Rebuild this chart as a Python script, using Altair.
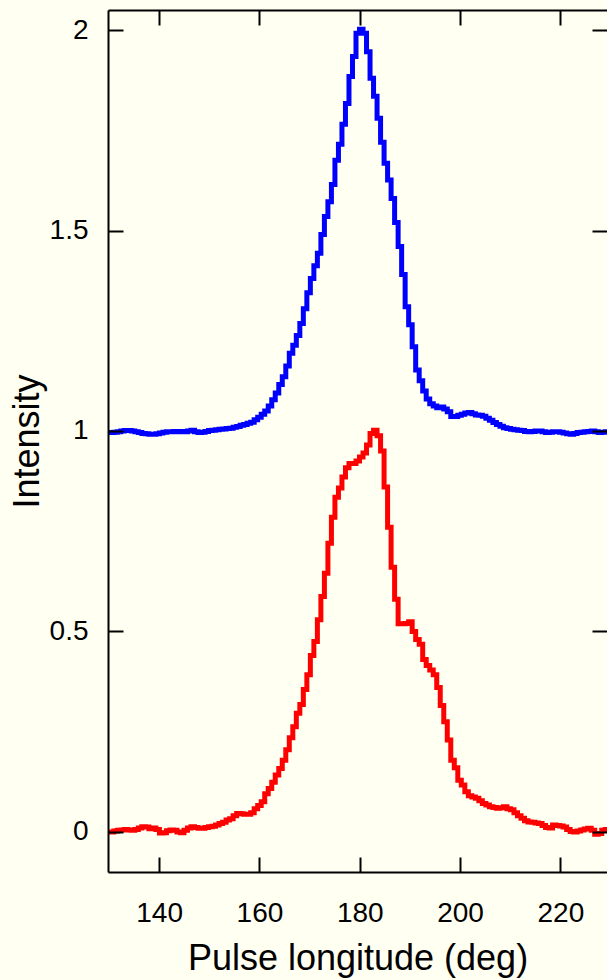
import altair as alt
import pandas as pd

# Pulse-profile bins: longitude of the first bin and bin width (deg)
LON_START = 129.9
LON_STEP = 0.7

# Upper profile (offset by +1)
upper_profile = [
    0.996, 0.996, 0.997, 0.998, 1.000, 1.001, 1.001, 1.000, 0.998, 0.996,
    0.994, 0.993, 0.992, 0.992, 0.993, 0.995, 0.997, 0.998, 0.998, 0.999,
    0.998, 0.999, 0.998, 1.000, 1.002, 0.998, 0.996, 0.997, 0.999, 1.001,
    1.002, 1.003, 1.004, 1.005, 1.006, 1.007, 1.009, 1.011, 1.014, 1.016,
    1.019, 1.022, 1.028, 1.034, 1.042, 1.050, 1.062, 1.078, 1.095, 1.116,
    1.135, 1.162, 1.194, 1.214, 1.238, 1.268, 1.305, 1.345, 1.380, 1.412,
    1.443, 1.490, 1.535, 1.572, 1.615, 1.675, 1.715, 1.765, 1.817, 1.884,
    1.934, 1.992, 2.002, 1.992, 1.946, 1.880, 1.835, 1.780, 1.720, 1.668,
    1.626, 1.580, 1.520, 1.460, 1.390, 1.310, 1.265, 1.210, 1.152, 1.125,
    1.100, 1.080, 1.068, 1.062, 1.058, 1.060, 1.055, 1.048, 1.036, 1.036,
    1.039, 1.042, 1.045, 1.046, 1.043, 1.040, 1.039, 1.037, 1.032, 1.027,
    1.021, 1.016, 1.012, 1.008, 1.006, 1.004, 1.003, 1.002, 1.001, 0.999,
    0.998, 0.999, 1.000, 1.000, 0.998, 0.996, 0.997, 0.998, 0.998, 0.997,
    0.995, 0.993, 0.992, 0.994, 0.996, 0.997, 0.998, 0.999, 1.000, 0.998,
    0.996, 0.997, 0.998,
]

# Lower profile
lower_profile = [
    0.000, 0.000, 0.002, 0.004, 0.005, 0.006, 0.005, 0.004, 0.006, 0.010,
    0.013, 0.012, 0.008, 0.010, 0.006, -0.003, -0.002, 0.003, 0.005, 0.004,
    0.000, -0.002, 0.004, 0.010, 0.013, 0.011, 0.009, 0.009, 0.011, 0.013,
    0.014, 0.017, 0.021, 0.024, 0.030, 0.033, 0.040, 0.046, 0.045, 0.044,
    0.044, 0.048, 0.058, 0.066, 0.075, 0.095, 0.108, 0.124, 0.142, 0.158,
    0.179, 0.205, 0.235, 0.262, 0.296, 0.318, 0.355, 0.392, 0.440, 0.475,
    0.529, 0.587, 0.645, 0.720, 0.785, 0.835, 0.858, 0.885, 0.908, 0.919,
    0.919, 0.925, 0.935, 0.945, 0.965, 0.994, 1.002, 0.988, 0.950, 0.860,
    0.760, 0.660, 0.580, 0.519, 0.519, 0.520, 0.524, 0.500, 0.480, 0.468,
    0.430, 0.415, 0.404, 0.392, 0.360, 0.315, 0.275, 0.229, 0.179, 0.160,
    0.129, 0.117, 0.100, 0.090, 0.087, 0.084, 0.078, 0.071, 0.067, 0.063,
    0.061, 0.059, 0.060, 0.063, 0.058, 0.055, 0.048, 0.040, 0.034, 0.028,
    0.025, 0.024, 0.022, 0.021, 0.016, 0.011, 0.010, 0.017, 0.016, 0.015,
    0.012, 0.006, 0.001, 0.000, 0.002, 0.005, 0.007, 0.009, 0.004, -0.006,
    -0.004, 0.004, 0.006,
]

x_ticks = [140, 160, 180, 200, 220]
y_ticks = [0, 0.5, 1, 1.5, 2]
x_title = "Pulse longitude (deg)"
y_title = "Intensity"

lon = [round(LON_START + LON_STEP * i, 3) for i in range(len(upper_profile))]
upper_df = pd.DataFrame({"lon": lon, "intensity": upper_profile})
lower_df = pd.DataFrame({"lon": lon, "intensity": lower_profile})

FONT = "Liberation Sans"
TICK_FS = 28
TITLE_FS = 36

xs = alt.Scale(domain=[129.8, 229.3], nice=False, zero=False)
ys = alt.Scale(domain=[-0.1, 2.05], nice=False, zero=False)

# main axes: frame line, labels and titles
x_main = alt.Axis(
    orient="bottom", values=x_ticks, format="d", grid=False,
    ticks=False, tickSize=0, domain=True, domainColor="black", domainWidth=2,
    labelFont=FONT, labelFontSize=TICK_FS, labelColor="black",
    labelBaseline="alphabetic", labelPadding=49, labelFlush=False,
    title=x_title, titleFont=FONT, titleFontSize=TITLE_FS,
    titleFontWeight="normal", titleColor="black",
    titleBaseline="alphabetic", titleY=97, zindex=1,
)
y_main = alt.Axis(
    orient="left", values=y_ticks, format="~g", grid=False,
    ticks=False, tickSize=0, domain=True, domainColor="black", domainWidth=2,
    labelFont=FONT, labelFontSize=TICK_FS, labelColor="black",
    labelAlign="right", labelBaseline="middle", labelPadding=20,
    labelFlush=False,
    title=y_title, titleFont=FONT, titleFontSize=TITLE_FS,
    titleFontWeight="normal", titleColor="black", titleAngle=270,
    titleAlign="center", titleBaseline="alphabetic", titleX=-70, titleY=431,
    zindex=1,
)


def inner_ticks(orient, values):
    # tick-only axis pulled inside the frame so the ticks point inward
    return alt.Axis(
        orient=orient, values=values, grid=False, domain=False, labels=False,
        ticks=True, tickSize=15, tickWidth=2, tickColor="black",
        offset=-15, title=None, zindex=1,
    )


x_top_frame = alt.Axis(
    orient="top", grid=False, domain=True, domainColor="black",
    domainWidth=2, ticks=False, labels=False, title=None, zindex=1,
)

line_style = dict(interpolate="step", strokeWidth=5, strokeJoin="miter",
                  strokeCap="butt", clip=True)

upper = alt.Chart(upper_df).mark_line(color="#0000ff", **line_style).encode(
    x=alt.X("lon:Q", scale=xs, axis=x_main),
    y=alt.Y("intensity:Q", scale=ys, axis=y_main),
)
lower = alt.Chart(lower_df).mark_line(color="#ff0000", **line_style).encode(
    x=alt.X("lon:Q", scale=xs, axis=inner_ticks("bottom", x_ticks)),
    y=alt.Y("intensity:Q", scale=ys, axis=inner_ticks("left", y_ticks)),
)
frame_a = alt.Chart(upper_df).mark_line(opacity=0).encode(
    x=alt.X("lon:Q", scale=xs, axis=x_top_frame),
    y=alt.Y("intensity:Q", scale=ys, axis=inner_ticks("right", y_ticks)),
)
frame_b = alt.Chart(upper_df).mark_line(opacity=0).encode(
    x=alt.X("lon:Q", scale=xs, axis=inner_ticks("top", x_ticks)),
    y=alt.Y("intensity:Q", scale=ys, axis=None),
)

chart = (
    alt.layer(frame_a, frame_b, upper, lower)
    .resolve_axis(x="independent", y="independent")
    .properties(
        width=499, height=862,
        background="#fffff2",
        autosize=alt.AutoSizeParams(type="none"),
        padding={"left": 108, "top": 10, "right": 0, "bottom": 108},
    )
    .configure_view(strokeWidth=0)
)

chart.save("out.html", embed_options={"renderer": "svg", "actions": False})
